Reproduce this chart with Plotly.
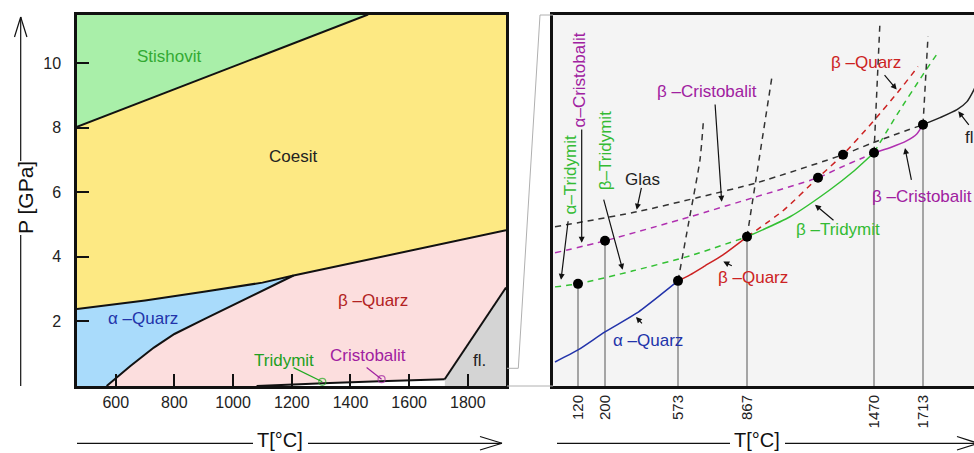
import plotly.graph_objects as go

W, H = 974, 453
FONT = "Liberation Sans, Arial, Helvetica, sans-serif"

# ---------------- Left panel: SiO2 phase diagram (T in °C, P in GPa) ----------------
T_min, T_max, P_max = 468, 1930, 11.5
left_xticks = [600, 800, 1000, 1200, 1400, 1600, 1800]
left_yticks = [2, 4, 6, 8, 10]

stish_T = [468, 800, 1000, 1200, 1460]            # Stishovit / Coesit boundary
stish_P = [8.02, 9.18, 9.88, 10.59, 11.5]
coes_T = [468, 700, 900, 1100, 1206, 1400, 1600, 1930]   # Coesit / Quarz boundary
coes_P = [2.38, 2.65, 2.92, 3.20, 3.42, 3.80, 4.19, 4.82]
abq_T = [569, 650, 730, 800, 900, 1000, 1100, 1206]      # alpha / beta Quarz boundary
abq_P = [0.0, 0.62, 1.19, 1.61, 2.06, 2.51, 2.95, 3.42]
trid_T = [1080, 1200, 1330, 1500, 1721]                  # Quarz / Tridymit-Cristobalit
trid_P = [0.0, 0.05, 0.09, 0.15, 0.21]
melt_T = [1721, 1930]                                    # melting curve (fl.)
melt_P = [0.21, 3.05]

trid_ptr_T = [1206, 1304]
trid_ptr_P = [0.57, 0.13]
cris_ptr_T = [1455, 1506]
cris_ptr_P = [0.57, 0.21]

left_labels = [
    ("Stishovit", 784, 10.2, "#33aa33"),
    ("Coesit", 1203, 7.1, "#222222"),
    ("β –Quarz", 1477, 2.64, "#b22222"),
    ("α –Quarz", 694, 2.1, "#2233aa"),
    ("Tridymit", 1172, 0.78, "#22a022"),
    ("Cristobalit", 1460, 0.94, "#a020a0"),
    ("fl.", 1840, 0.78, "#222222"),
]

# ---------------- Right panel: schematic enlargement (arbitrary units) ----------------
R_xmax, R_ymax = 421, 371
tick_pos = [25, 52, 125, 194, 321, 370]
tick_lbl = ["120", "200", "573", "867", "1470", "1713"]
drop_y = [102, 145, 105, 149, 233, 261]

aq_x = [2, 25, 52, 84, 110, 125]
aq_y = [24, 36, 54, 73, 93, 105]
bq_x = [125, 137, 152, 170, 194]
bq_y = [105, 111, 120, 131, 149]
bt_x = [194, 237, 277, 300, 321]
bt_y = [149, 169, 196, 214, 233]
bc_x = [321, 337, 354, 364, 370]
bc_y = [233, 238, 245, 252, 261]
fl_x = [370, 387, 404, 414, 421, 428]
fl_y = [261, 268, 276, 284, 296, 312]

glas_x = [2, 84, 144, 204, 290, 320, 370]
glas_y = [159, 174, 188, 203, 231, 243, 261]
bcm_x = [2, 52, 137, 200, 265, 287, 310, 321]
bcm_y = [133, 145, 169, 188, 208, 218, 228, 233]
btlo_x = [2, 25, 80, 137, 194]
btlo_y = [99, 102, 115, 130, 149]
bthi_x = [321, 344, 370, 385]
bthi_y = [233, 271, 311, 333]
bqm_x = [194, 230, 265, 290, 320, 347, 365]
bqm_y = [149, 175, 208, 231, 264, 296, 319]

v573_x, v573_y = [125, 136, 147, 150.5], [105, 165, 226, 266]
v867_x, v867_y = [194, 219], [149, 309]
v1470_x, v1470_y = [321, 327], [233, 364]
v1713_x, v1713_y = [370, 375], [261, 349]

dot_x = [25, 52, 125, 194, 265, 290, 321, 370]
dot_y = [102, 145, 105, 149, 208, 231, 233, 261]

# (text, x, y, color, angle, xanchor)
right_labels = [
    ("α–Tridymit", 17.7, 211, "#33bb33", -90, "center"),
    ("α–Cristobalit", 26.3, 305.5, "#a020a0", -90, "center"),
    ("β–Tridymit", 52, 234.5, "#33bb33", -90, "center"),
    ("Glas", 89.7, 206.7, "#222222", 0, "center"),
    ("β –Cristobalit", 153.7, 294.3, "#a020a0", 0, "center"),
    ("α –Quarz", 95, 45, "#2233aa", 0, "center"),
    ("β –Quarz", 200.3, 108.7, "#cc2222", 0, "center"),
    ("β –Tridymit", 285.3, 156, "#33bb33", 0, "center"),
    ("β –Quarz", 312.7, 322.7, "#cc2222", 0, "center"),
    ("β –Cristobalit", 317, 189.3, "#a020a0", 0, "left"),
    ("fl.", 410.3, 247.7, "#222222", 0, "left"),
]
# (tail_x, tail_y, head_x, head_y)
right_arrows = [
    (15.3, 166, 8, 106),
    (28.7, 257.7, 28.7, 143),
    (50.3, 187.7, 69.7, 116),
    (88.7, 199.3, 83.7, 176),
    (90.3, 61, 83, 69),
    (162, 282.7, 168.7, 184),
    (180.3, 119.3, 170.3, 124.3),
    (282, 164.3, 262, 181),
    (330.3, 312, 343.7, 296),
    (358.7, 204.3, 352, 237.7),
    (417, 259.3, 405.3, 274.3),
]

# ---------------- Figure ----------------
fig = go.Figure()

def poly(x, y, color):
    fig.add_trace(go.Scatter(x=x, y=y, fill="toself", fillcolor=color, mode="lines",
                             line=dict(width=0), hoverinfo="skip", showlegend=False,
                             xaxis="x", yaxis="y"))

poly(stish_T + [T_min], stish_P + [P_max], "#a9efa9")
poly(stish_T + [T_max] + coes_T[::-1], stish_P + [P_max] + coes_P[::-1], "#fde983")
poly(coes_T[:5] + abq_T[::-1] + [T_min], coes_P[:5] + abq_P[::-1] + [0], "#a9dbfb")
poly(abq_T + coes_T[5:] + melt_T[::-1] + trid_T[::-1],
     abq_P + coes_P[5:] + melt_P[::-1] + trid_P[::-1], "#fcdede")
poly(melt_T + [T_max, melt_T[0]], melt_P + [0, 0], "#d4d4d4")
poly(trid_T + [trid_T[-1]], trid_P + [0], "#ffffff")

for bx, by in [(stish_T, stish_P), (coes_T, coes_P), (abq_T, abq_P),
               (trid_T, trid_P), (melt_T, melt_P)]:
    fig.add_trace(go.Scatter(x=bx, y=by, mode="lines", line=dict(color="#111111", width=2),
                             hoverinfo="skip", showlegend=False, xaxis="x", yaxis="y"))

for px_, py_, c in [(trid_ptr_T, trid_ptr_P, "#22aa22"), (cris_ptr_T, cris_ptr_P, "#a020a0")]:
    fig.add_trace(go.Scatter(x=px_, y=py_, mode="lines+markers",
                             line=dict(color=c, width=1.2),
                             marker=dict(size=[0, 7], symbol="circle-open", color=c,
                                         line=dict(width=1.2, color=c)),
                             hoverinfo="skip", showlegend=False, xaxis="x", yaxis="y"))

# right panel
def rline(x, y, color, dash="solid", width=1.5, shape="spline"):
    fig.add_trace(go.Scatter(x=x, y=y, mode="lines",
                             line=dict(color=color, width=width, dash=dash, shape=shape,
                                       smoothing=0.6 if shape == "spline" else None),
                             hoverinfo="skip", showlegend=False, xaxis="x2", yaxis="y2"))

dx, dy = [], []
for t, top in zip(tick_pos, drop_y):
    dx += [t, t, None]
    dy += [0, top, None]
rline(dx, dy, "#555555", width=1, shape="linear")

D = "6px,5px"
rline(glas_x, glas_y, "#333333", D)
rline(bcm_x, bcm_y, "#b030b0", D)
rline(btlo_x, btlo_y, "#33c033", D)
rline(bthi_x, bthi_y, "#33c033", D)
rline(bqm_x, bqm_y, "#cc2222", D)
for vx, vy in [(v573_x, v573_y), (v867_x, v867_y), (v1470_x, v1470_y), (v1713_x, v1713_y)]:
    rline(vx, vy, "#333333", D)

rline(aq_x, aq_y, "#2233aa")
rline(bq_x, bq_y, "#cc2222")
rline(bt_x, bt_y, "#33c033")
rline(bc_x, bc_y, "#b030b0")
rline(fl_x, fl_y, "#222222")

fig.add_trace(go.Scatter(x=dot_x, y=dot_y, mode="markers",
                         marker=dict(size=10, color="#000000"),
                         hoverinfo="skip", showlegend=False, xaxis="x2", yaxis="y2"))

annotations = []
for txt, x, y, c in left_labels:
    annotations.append(dict(x=x, y=y, xref="x", yref="y", text=txt, showarrow=False,
                            font=dict(family=FONT, size=17, color=c)))
for txt, x, y, c, ang, xa in right_labels:
    annotations.append(dict(x=x, y=y, xref="x2", yref="y2", text=txt, showarrow=False,
                            textangle=ang, xanchor=xa, yanchor="middle",
                            font=dict(family=FONT, size=17, color=c)))
for tx, ty, hx, hy in right_arrows:
    annotations.append(dict(x=hx, y=hy, ax=tx, ay=ty, xref="x2", yref="y2",
                            axref="x2", ayref="y2", text="", showarrow=True,
                            arrowhead=2, arrowsize=1, arrowwidth=1.2,
                            arrowcolor="#111111", standoff=0))

def X(p):
    return p / W

def Y(p):
    return (H - p) / H

annotations += [
    dict(x=X(25), y=Y(198), xref="paper", yref="paper", text="P [GPa]", textangle=-90,
         xanchor="center", yanchor="middle",
         showarrow=False, font=dict(family=FONT, size=21, color="#111111")),
    dict(x=X(280), y=Y(440), xref="paper", yref="paper", text="T[°C]",
         xanchor="center", yanchor="middle", borderpad=0,
         showarrow=False, font=dict(family=FONT, size=20, color="#111111")),
    dict(x=X(757), y=Y(440), xref="paper", yref="paper", text="T[°C]",
         xanchor="center", yanchor="middle", borderpad=0,
         showarrow=False, font=dict(family=FONT, size=20, color="#111111")),
]

shapes = []
def seg(x0, y0, x1, y1, color="#111111", width=1.2):
    shapes.append(dict(type="line", xref="paper", yref="paper",
                       x0=X(x0), y0=Y(y0), x1=X(x1), y1=Y(y1),
                       line=dict(color=color, width=width)))

# axis arrows
seg(20.7, 386, 20.7, 235)
seg(20.7, 161, 20.7, 17)
seg(14.5, 37, 20.7, 17)
seg(26.9, 37, 20.7, 17)
seg(77, 443.3, 253, 443.3)
seg(308, 443.3, 502, 443.3)
seg(480, 436.5, 502, 443.3)
seg(480, 450, 502, 443.3)
seg(557, 443.3, 730, 443.3)
seg(785, 443.3, 980, 443.3)
seg(957, 436.5, 978, 443.3)
seg(957, 450, 978, 443.3)
# zoom connector
G = "#b0b0b0"
seg(507, 368.3, 518.3, 368.3, G, 1)
seg(518.3, 368.3, 540, 15, G, 1)
seg(540, 15, 553, 15, G, 1)
seg(507, 386, 553, 386, G, 1)

ydom = [Y(386), Y(14.5)]
fig.update_layout(
    width=W, height=H, autosize=False,
    margin=dict(l=0, r=0, t=0, b=0),
    paper_bgcolor="#ffffff", plot_bgcolor="#f4f4f4",
    showlegend=False,
    font=dict(family=FONT, size=16, color="#222222"),
    xaxis=dict(domain=[X(77), X(506)], range=[T_min, T_max], tickvals=left_xticks,
               ticks="inside", ticklen=12, tickwidth=1.5, tickcolor="#111111",
               showline=True, mirror=True, linecolor="#111111", linewidth=2.5,
               showgrid=False, zeroline=False, tickfont=dict(size=16, color="#222222"),
               ticklabelstandoff=0),
    yaxis=dict(domain=ydom, range=[0, P_max], tickvals=left_yticks,
               ticks="inside", ticklen=12, tickwidth=1.5, tickcolor="#111111",
               showline=True, mirror=True, linecolor="#111111", linewidth=2.5,
               showgrid=False, zeroline=False, tickfont=dict(size=16, color="#222222"),
               ticklabelstandoff=10),
    xaxis2=dict(domain=[X(553), 1.0], range=[0, R_xmax], tickvals=tick_pos, ticktext=tick_lbl,
                tickangle=-90, ticks="", showline=True, mirror=True, linecolor="#111111",
                linewidth=3, showgrid=False, zeroline=False, anchor="y2",
                tickfont=dict(size=15, color="#222222"), ticklabelstandoff=0),
    yaxis2=dict(domain=ydom, range=[0, R_ymax], showticklabels=False, ticks="",
                showline=True, linecolor="#111111", linewidth=3, showgrid=False,
                zeroline=False, anchor="x2"),
    annotations=annotations,
    shapes=shapes,
)

fig.write_html("out.html", config={"displayModeBar": False},
               post_script="document.body.style.margin='0';document.body.style.padding='0';"
                           "document.body.style.overflow='hidden';")
